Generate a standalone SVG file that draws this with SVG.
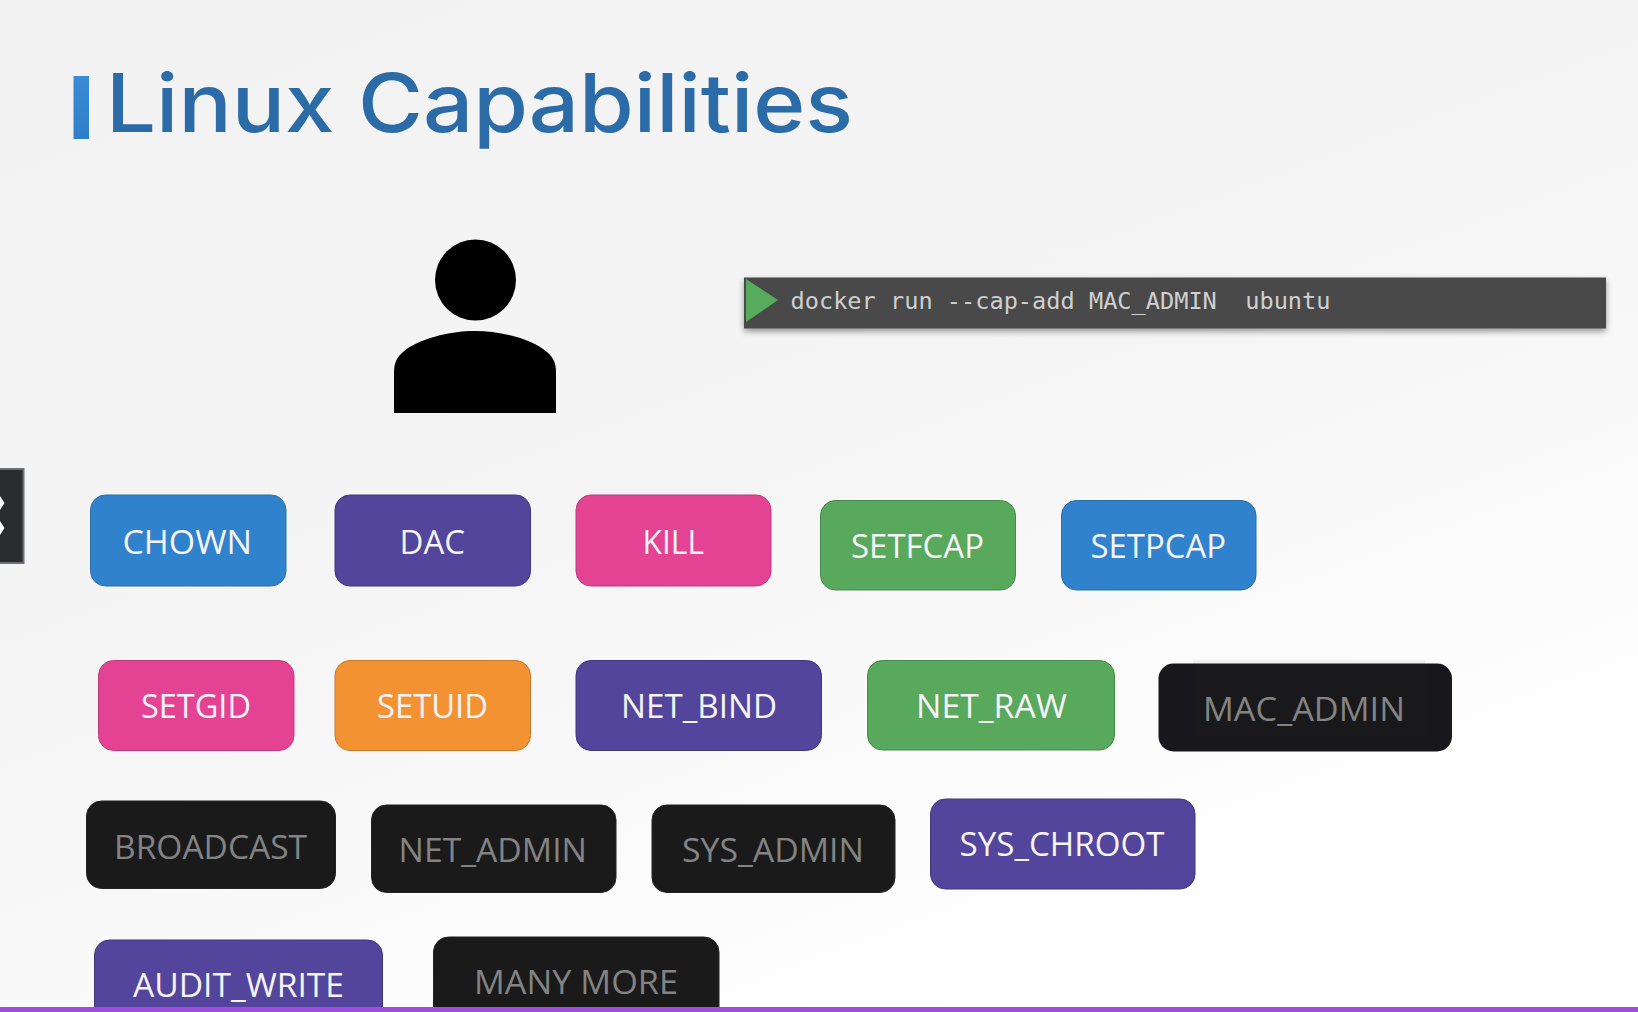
<svg xmlns="http://www.w3.org/2000/svg" width="1638" height="1012" viewBox="0 0 1638 1012">
<defs>
<linearGradient id="bg" x1="0" y1="0" x2="0.6" y2="1">
<stop offset="0" stop-color="#f2f2f2"/><stop offset="0.55" stop-color="#f5f5f5"/><stop offset="0.85" stop-color="#fcfcfc"/><stop offset="1" stop-color="#ffffff"/>
</linearGradient>
<linearGradient id="tick" x1="0" y1="0" x2="0" y2="1"><stop offset="0" stop-color="#3a8bd6"/><stop offset="1" stop-color="#2f7fc8"/></linearGradient>
<filter id="sh" x="-2%" y="-20%" width="104%" height="150%"><feDropShadow dx="0" dy="3" stdDeviation="3" flood-color="#000" flood-opacity="0.4"/></filter>
</defs>
<style>
.b{stroke-width:1}
.l{font-family:"Open Sans","Noto Sans",sans-serif;font-size:33.500px;fill:#f6f4f8;text-anchor:start}
.d{fill:#838383}
.blue{fill:#3182cc;stroke:#2a6fa8}
.purple{fill:#52459b;stroke:#3f3580}
.pink{fill:#e44393;stroke:#c03a7c}
.green{fill:#59a95c;stroke:#468a4a}
.orange{fill:#f39233;stroke:#c97a2a}
.dark{fill:#1a1a1a;stroke:#222}
</style>
<rect width="1638" height="1012" fill="url(#bg)"/>
<g id="title">
<rect x="73.500" y="76" width="15.500" height="63" fill="url(#tick)"/>
<text x="106" y="132" font-family="Inter,'Open Sans',sans-serif" font-size="81" font-weight="500" fill="#2a6ba8" textLength="747" lengthAdjust="spacingAndGlyphs">Linux Capabilities</text>
</g>
<g id="user">
<ellipse cx="475.500" cy="280" rx="40.500" ry="40.500" fill="#000"/>
<path d="M394 413V372C394 363 397 357 403 352C418 339 449 331 475 331C501 331 532 339 547 352C553 357 556 363 556 372V413Z" fill="#000"/>
</g>
<g id="terminal">
<rect x="744" y="277.500" width="862" height="51" fill="#4a4a4a" filter="url(#sh)"/>
<path d="M746 279L778 300L746 322Z" fill="#56ab5c"/>
<text x="790.500" y="309" xml:space="preserve" font-family="'DejaVu Sans Mono','Liberation Mono',monospace" font-size="23.600" fill="#d0d0d0" textLength="540" lengthAdjust="spacingAndGlyphs">docker run --cap-add MAC_ADMIN  ubuntu</text>
</g>
<g id="side-tab">
<rect x="-3" y="469" width="26.500" height="94" fill="#2b2c2e" stroke="#6c7074" stroke-width="2"/>
<path d="M0 496L4.500 503L0 510ZM0 521L4.500 528L0 535Z" fill="#fff"/>
</g>
<g id="chown"><rect class="b blue" x="90.500" y="495" width="195.500" height="91" rx="15"/><text class="l" x="122.500" y="554" textLength="129.500" lengthAdjust="spacingAndGlyphs">CHOWN</text></g>
<g id="dac"><rect class="b purple" x="335" y="495" width="195.500" height="91" rx="15"/><text class="l" x="399.500" y="554" textLength="65.500" lengthAdjust="spacingAndGlyphs">DAC</text></g>
<g id="kill"><rect class="b pink" x="576" y="495" width="195" height="91" rx="15"/><text class="l" x="642.500" y="554" textLength="61.500" lengthAdjust="spacingAndGlyphs">KILL</text></g>
<g id="setfcap"><rect class="b green" x="820.500" y="500.500" width="195" height="89.500" rx="15"/><text class="l" x="851" y="558" textLength="133" lengthAdjust="spacingAndGlyphs">SETFCAP</text></g>
<g id="setpcap"><rect class="b blue" x="1061.500" y="500.500" width="194.500" height="89.500" rx="15"/><text class="l" x="1090.500" y="558" textLength="135.500" lengthAdjust="spacingAndGlyphs">SETPCAP</text></g>
<g id="setgid"><rect class="b pink" x="98.500" y="660.500" width="195.500" height="90" rx="15"/><text class="l" x="141" y="717.500" textLength="110" lengthAdjust="spacingAndGlyphs">SETGID</text></g>
<g id="setuid"><rect class="b orange" x="335" y="660.500" width="195.500" height="90" rx="15"/><text class="l" x="377" y="717.500" textLength="111" lengthAdjust="spacingAndGlyphs">SETUID</text></g>
<g id="net-bind"><rect class="b purple" x="576" y="660.500" width="245.500" height="90" rx="15"/><text class="l" x="621" y="717.500" textLength="156" lengthAdjust="spacingAndGlyphs">NET_BIND</text></g>
<g id="net-raw"><rect class="b green" x="867.500" y="660.500" width="247" height="89.500" rx="15"/><text class="l" x="916" y="717.500" textLength="151" lengthAdjust="spacingAndGlyphs">NET_RAW</text></g>
<g id="mac-admin"><rect x="1193" y="660" width="232" height="4" fill="#f0eff1"/><rect x="1158.500" y="663.500" width="293.500" height="88" rx="15" fill="#17171c"/><rect x="1193" y="664" width="232" height="72" fill="#19191b"/><text class="l d" x="1203" y="720.500" textLength="202" lengthAdjust="spacingAndGlyphs">MAC_ADMIN</text></g>
<g id="broadcast"><rect class="b dark" x="86.500" y="801" width="249" height="87.500" rx="15"/><text class="l d" x="114" y="858.500" textLength="193" lengthAdjust="spacingAndGlyphs">BROADCAST</text></g>
<g id="net-admin"><rect class="b dark" x="371.500" y="805" width="244.500" height="87.500" rx="15"/><text class="l d" x="398.500" y="861.500" textLength="188.500" lengthAdjust="spacingAndGlyphs">NET_ADMIN</text></g>
<g id="sys-admin"><rect class="b dark" x="652" y="805" width="243" height="87.500" rx="15"/><text class="l d" x="682" y="861.500" textLength="182" lengthAdjust="spacingAndGlyphs">SYS_ADMIN</text></g>
<g id="sys-chroot"><rect class="b purple" x="930.500" y="799" width="264.500" height="90" rx="15"/><text class="l" x="959.500" y="856" textLength="205" lengthAdjust="spacingAndGlyphs">SYS_CHROOT</text></g>
<g id="audit-write"><rect class="b purple" x="94.500" y="940" width="288" height="90" rx="15"/><text class="l" x="133" y="996.500" textLength="211" lengthAdjust="spacingAndGlyphs">AUDIT_WRITE</text></g>
<g id="many-more"><rect class="b dark" x="433.500" y="937" width="285.500" height="90" rx="15"/><text class="l d" x="474" y="994" textLength="204" lengthAdjust="spacingAndGlyphs">MANY MORE</text></g>
<rect id="bottom-bar" x="0" y="1007" width="1638" height="5" fill="#a04de2"/>
</svg>
